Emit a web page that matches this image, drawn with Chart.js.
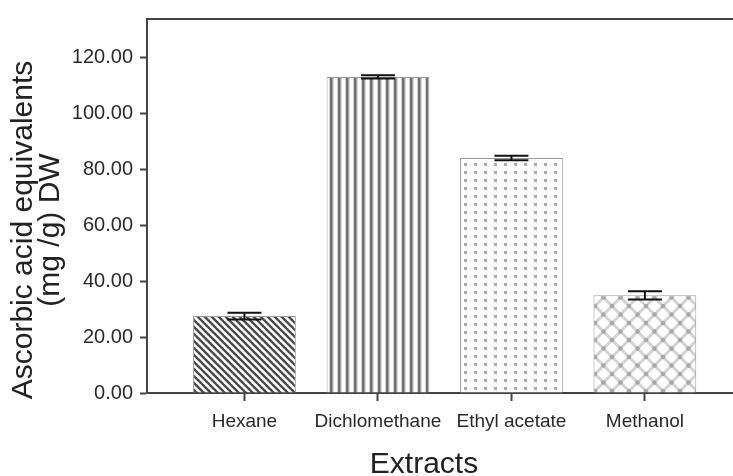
<!DOCTYPE html>
<html>
<head>
<meta charset="utf-8">
<script src="https://cdn.jsdelivr.net/npm/chart.js@4/dist/chart.umd.min.js"></script>
<style>
  html, body { margin: 0; padding: 0; background: #fff; }
  #wrap { width: 733px; height: 476px; }
</style>
</head>
<body>
<div id="wrap"><canvas id="c" width="733" height="476"></canvas></div>
<script>
// ---- data ----
const categories = ['Hexane', 'Dichlomethane', 'Ethyl acetate', 'Methanol'];
const values = [27.5, 113.0, 84.0, 34.9];
const errors = [1.2, 0.6, 0.8, 1.5];
const yTicks = [0, 20, 40, 60, 80, 100, 120];
const yTitle = ['Ascorbic acid equivalents', '(mg /g) DW'];
const xTitle = 'Extracts';

// ---- patterns ----
function tile(w, h, draw) {
  const c = document.createElement('canvas');
  c.width = w; c.height = h;
  const g = c.getContext('2d');
  g.fillStyle = '#fff'; g.fillRect(0, 0, w, h);
  draw(g, w, h);
  return document.getElementById('c').getContext('2d').createPattern(c, 'repeat');
}
const patDiag = tile(7, 7, (g, w) => {
  g.strokeStyle = '#4a4a4a'; g.lineWidth = 2.4;
  for (let k = -1; k <= 1; k++) {
    g.beginPath(); g.moveTo(k * w - 1, -1); g.lineTo(k * w + w + 1, w + 1); g.stroke();
  }
});
const patVert = tile(8, 4, (g) => {
  g.fillStyle = '#d4d4d4'; g.fillRect(1, 0, 5, 4);
  g.fillStyle = '#707070'; g.fillRect(2, 0, 2.5, 4);
});
const patDots = tile(10, 8, (g) => {
  g.fillStyle = '#ababab'; g.fillRect(4, 3, 3, 3);
});
const patCross = tile(17, 17, (g, w) => {
  g.strokeStyle = '#d2d2d2'; g.lineWidth = 3;
  g.beginPath(); g.moveTo(0, 0); g.lineTo(w, w); g.moveTo(w, 0); g.lineTo(0, w); g.stroke();
  g.fillStyle = '#a6a6a6';
  const pts = [[w / 2, w / 2], [0, 0], [w, 0], [0, w], [w, w]];
  pts.forEach(([x, y]) => { g.beginPath(); g.arc(x, y, 2.2, 0, Math.PI * 2); g.fill(); });
});
const patterns = [patDiag, patVert, patDots, patCross];

// ---- plugins ----
const frame = {
  id: 'frame',
  afterDraw(chart) {
    const { ctx, chartArea: a } = chart;
    ctx.save();
    ctx.strokeStyle = '#444'; ctx.lineWidth = 2;
    ctx.beginPath(); ctx.moveTo(a.left, a.top); ctx.lineTo(a.right + 2, a.top); ctx.stroke();
    // axis titles
    ctx.fillStyle = '#222';
    ctx.textAlign = 'center'; ctx.textBaseline = 'middle';
    ctx.font = '30px "Liberation Sans"';
    ctx.fillText(xTitle, 424, 465);
    ctx.save();
    ctx.translate(24, 230);
    ctx.rotate(-Math.PI / 2);
    ctx.fillText(yTitle[0], 0, 0);
    ctx.fillText(yTitle[1], 0, 27);
    ctx.restore();
    ctx.restore();
  }
};
const errorBars = {
  id: 'errorBars',
  afterDatasetsDraw(chart) {
    const { ctx } = chart;
    const meta = chart.getDatasetMeta(0);
    const ys = chart.scales.y;
    ctx.save();
    ctx.strokeStyle = '#111'; ctx.lineWidth = 2;
    meta.data.forEach((bar, i) => {
      const x = bar.x;
      const yHi = ys.getPixelForValue(values[i] + errors[i]);
      const yLo = ys.getPixelForValue(values[i] - errors[i]);
      const half = 17;
      ctx.beginPath();
      ctx.moveTo(x, yHi); ctx.lineTo(x, yLo);
      ctx.moveTo(x - half, yHi); ctx.lineTo(x + half, yHi);
      ctx.moveTo(x - half, yLo); ctx.lineTo(x + half, yLo);
      ctx.stroke();
    });
    ctx.restore();
  }
};

new Chart(document.getElementById('c'), {
  type: 'bar',
  data: {
    datasets: [{
      data: categories.map((c, i) => ({ x: i + 1, y: values[i] })),
      backgroundColor: patterns,
      borderColor: '#9a9a9a',
      borderWidth: 1,
      barPercentage: 0.77,
      categoryPercentage: 1.0
    }]
  },
  options: {
    responsive: false,
    animation: false,
    events: [],
    layout: { padding: { top: 13, left: 0, right: 0, bottom: 0 } },
    plugins: { legend: { display: false }, tooltip: { enabled: false } },
    scales: {
      x: {
        type: 'linear',
        offset: false,
        min: 0.27, max: 4.66,
        afterBuildTicks(s) { s.ticks = categories.map((c, i) => ({ value: i + 1 })); },
        afterFit(s) { s.height = 83; },
        grid: { offset: false, drawOnChartArea: false, tickLength: 8, tickWidth: 2, tickColor: '#444' },
        border: { color: '#444', width: 2 },
        ticks: {
          autoSkip: false, maxRotation: 0, padding: 9,
          color: '#2a2a2a',
          font: { family: 'Liberation Sans', size: 19 },
          callback: (v) => categories[v - 1] || ''
        },
        title: { display: false }
      },
      y: {
        min: 0, max: 133.7,
        afterBuildTicks(s) { s.ticks = yTicks.map(v => ({ value: v })); },
        afterFit(s) { s.width = 147; },
        grid: { drawOnChartArea: false, tickLength: 7, tickWidth: 2, tickColor: '#444' },
        border: { color: '#444', width: 2 },
        ticks: {
          padding: 7, color: '#2a2a2a',
          font: { family: 'Liberation Sans', size: 20 },
          callback: (v) => Number(v).toFixed(2)
        },
        title: { display: false }
      }
    }
  },
  plugins: [frame, errorBars]
});
</script>
</body>
</html>
